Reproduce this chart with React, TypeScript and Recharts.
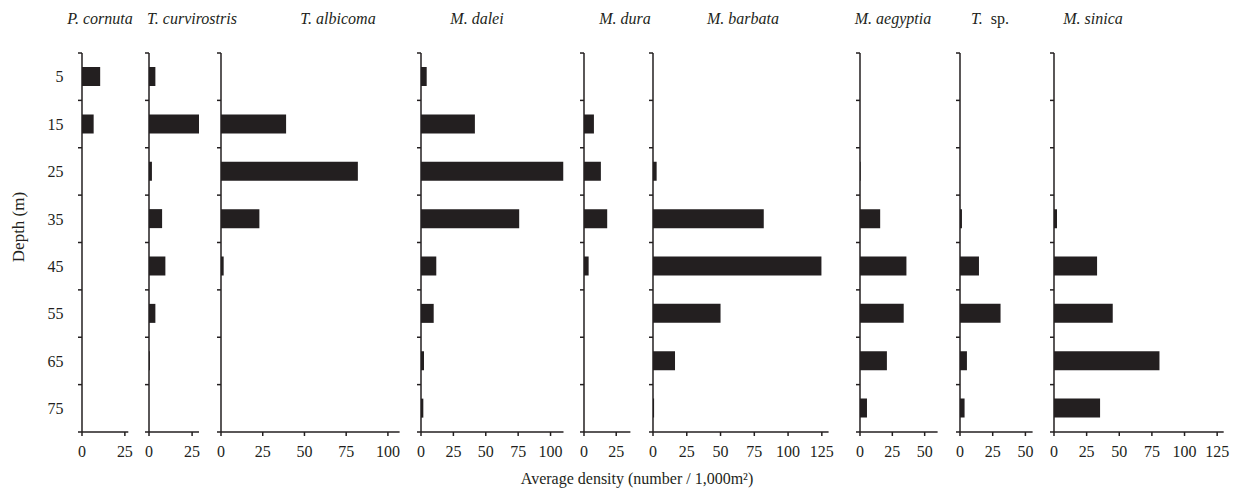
import { Bar, BarChart, XAxis, YAxis } from 'recharts';

// depth classes (m), drawn top to bottom
const depths = [5, 15, 25, 35, 45, 55, 65, 75];
// axis ticks: even tens mark class boundaries, odd fives carry the class label
const depthTicks = [0, 5, 10, 15, 20, 25, 30, 35, 40, 45, 50, 55, 60, 65, 70, 75, 80];

// average density per depth class (number / 1,000 m²)
const pCornuta = [10.6, 6.8, 0, 0, 0, 0, 0, 0];
const tCurvirostris = [3.7, 29.5, 1.7, 7.6, 9.5, 3.7, 0.5, 0];
const tAlbicoma = [0, 39, 82, 23, 1.6, 0, 0, 0];
const mDalei = [4.4, 41.6, 110, 75.8, 11.8, 9.8, 2.3, 1.8];
const mDura = [0, 7.7, 13.1, 18, 3.6, 0, 0, 0];
const mBarbata = [0, 0, 2.7, 82, 124.7, 50, 16.3, 0.8];
const mAegyptia = [0, 0, 0.5, 15.6, 35.9, 33.8, 20.8, 5.4];
const tSp = [0, 0, 0, 1.5, 14.5, 31, 5.3, 3.5];
const mSinica = [0, 0, 0, 2.3, 33, 45, 80.8, 35.3];

const ticksSmall = [0, 25];
const ticks50 = [0, 25, 50];
const ticks100 = [0, 25, 50, 75, 100];
const ticks125 = [0, 25, 50, 75, 100, 125];

const INK = '#231f20';
const FONT = '"Liberation Serif", "Times New Roman", serif';

type Panel = {
  genus: string;
  species: string;
  values: number[];
  ticks: number[];
  max: number;
  axisX: number;
  plotW: number;
  titleX: number;
};

const panels: Panel[] = [
  { genus: 'P.', species: 'cornuta', values: pCornuta, ticks: ticksSmall, max: 27, axisX: 81.7, plotW: 46.3, titleX: 100 },
  { genus: 'T.', species: 'curvirostris', values: tCurvirostris, ticks: ticksSmall, max: 29, axisX: 149.3, plotW: 50, titleX: 192 },
  { genus: 'T.', species: 'albicoma', values: tAlbicoma, ticks: ticks100, max: 107, axisX: 220.7, plotW: 178.6, titleX: 338 },
  { genus: 'M.', species: 'dalei', values: mDalei, ticks: ticks100, max: 110, axisX: 421, plotW: 142.5, titleX: 477 },
  { genus: 'M.', species: 'dura', values: mDura, ticks: ticksSmall, max: 36, axisX: 584.3, plotW: 46.4, titleX: 625 },
  { genus: 'M.', species: 'barbata', values: mBarbata, ticks: ticks125, max: 130, axisX: 652.7, plotW: 175.6, titleX: 743 },
  { genus: 'M.', species: 'aegyptia', values: mAegyptia, ticks: ticks50, max: 60, axisX: 859.7, plotW: 77.6, titleX: 893 },
  { genus: 'T.', species: 'sp.', values: tSp, ticks: ticks50, max: 55.5, axisX: 959.7, plotW: 72.6, titleX: 990 },
  { genus: 'M.', species: 'sinica', values: mSinica, ticks: ticks125, max: 130, axisX: 1054.3, plotW: 169.7, titleX: 1093 },
];

const AXIS_W = 4;
const LABEL_W = 48;
const RIGHT_PAD = 24;

// boundary ticks get a short stub, class centres get the depth label (first panel only)
function depthTick(showLabels: boolean) {
  return (props: any) => {
    const { x, y, payload } = props;
    const v = payload.value as number;
    if (v % 10 === 0) {
      return <line x1={x - 4} x2={x} y1={y} y2={y} stroke={INK} strokeWidth={1.5} />;
    }
    if (!showLabels) return <g />;
    return (
      <text x={x - 18.5} y={y} dy="0.36em" textAnchor="end" fontSize={16} fill={INK}>
        {v}
      </text>
    );
  };
}

function DepthPanel({ panel, showDepth }: { panel: Panel; showDepth: boolean }) {
  const rows = depths.map((d, i) => ({ depth: d, value: panel.values[i] }));
  const leftW = AXIS_W + (showDepth ? LABEL_W : 0);
  const axisStyle = { stroke: INK, strokeWidth: 1.5 };

  return (
    <div style={{ position: 'absolute', left: panel.axisX - leftW, top: 0 }}>
      <BarChart
        width={leftW + panel.plotW + RIGHT_PAD}
        height={488}
        data={rows}
        layout="vertical"
        margin={{ top: 53, right: RIGHT_PAD, bottom: 26, left: 0 }}
      >
        <XAxis
          type="number"
          domain={[0, panel.max]}
          ticks={panel.ticks}
          interval={0}
          allowDataOverflow
          height={30}
          tickSize={4}
          tickMargin={10}
          axisLine={axisStyle}
          tickLine={axisStyle}
          tick={{ fontSize: 16, fill: INK }}
        />
        <YAxis
          type="number"
          dataKey="depth"
          domain={[0, 80]}
          ticks={depthTicks}
          interval={0}
          width={leftW}
          tickSize={0}
          tickMargin={0}
          tickLine={false}
          axisLine={axisStyle}
          tick={depthTick(showDepth)}
        />
        <Bar dataKey="value" fill={INK} barSize={19} isAnimationActive={false} />
      </BarChart>
    </div>
  );
}

export default function App() {
  return (
    <div
      style={{
        position: 'absolute',
        left: 0,
        top: 0,
        width: 1239,
        height: 488,
        background: '#fff',
        fontFamily: FONT,
        color: INK,
        overflow: 'hidden',
      }}
    >
      {panels.map((p, i) => (
        <DepthPanel key={p.species} panel={p} showDepth={i === 0} />
      ))}

      {panels.map((p) => (
        <div
          key={'t-' + p.species}
          style={{
            position: 'absolute',
            left: p.titleX,
            top: 10.5,
            transform: 'translateX(-50%)',
            fontSize: 16,
            lineHeight: '16px',
            whiteSpace: 'nowrap',
          }}
        >
          <i>{p.genus}</i>
          {p.species === 'sp.' ? (
            <span>&nbsp;&nbsp;sp.</span>
          ) : (
            <i> {p.species}</i>
          )}
        </div>
      ))}

      <div
        style={{
          position: 'absolute',
          left: 18,
          top: 227,
          transform: 'translate(-50%, -50%) rotate(-90deg)',
          fontSize: 17,
          lineHeight: '17px',
          whiteSpace: 'nowrap',
        }}
      >
        Depth (m)
      </div>

      <div
        style={{
          position: 'absolute',
          left: 637,
          top: 471,
          transform: 'translateX(-50%)',
          fontSize: 16,
          lineHeight: '16px',
          whiteSpace: 'nowrap',
        }}
      >
        Average density (number / 1,000m²)
      </div>
    </div>
  );
}
